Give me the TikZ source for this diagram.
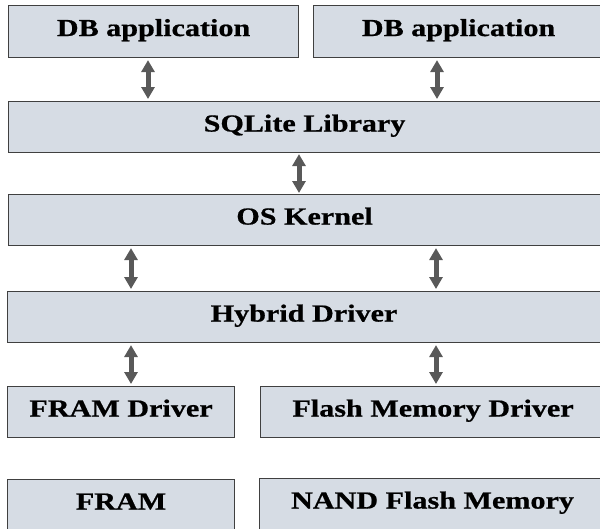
\documentclass[tikz,border=0pt]{standalone}
\usepackage{fontspec}
\newfontfamily\lblfont[FakeStretch=1.23,FakeBold=0.7]{Liberation Serif Bold}
\usetikzlibrary{arrows.meta}
\definecolor{boxfill}{HTML}{D6DCE4}
\definecolor{boxline}{HTML}{404040}
\definecolor{arrowcol}{HTML}{595959}
\tikzset{
  layer/.style={draw=boxline, fill=boxfill, line width=1.1pt, anchor=north west,
    inner sep=0pt, text height=16.5pt, text depth=7.5pt,
    font=\lblfont\fontsize{24.5}{28}\selectfont},
  dbl/.style={draw=arrowcol, line width=5pt,
    {Triangle[length=12pt,width=13pt]}-{Triangle[length=12pt,width=13pt]}}
}
\begin{document}
\begin{tikzpicture}[x=1pt,y=-1pt]
\useasboundingbox (0,0) rectangle (600,528);
\clip (0,0) rectangle (600,528);
\fill[white] (0,0) rectangle (600,528);
\node[layer, minimum width=290pt, minimum height=52pt] (app1) at (8,5) {DB application};
\node[layer, minimum width=290pt, minimum height=52pt] (app2) at (313,5) {DB application};
\node[layer, minimum width=592pt, minimum height=51pt] (sql) at (8,101) {SQLite Library};
\node[layer, minimum width=592pt, minimum height=51pt] (os) at (8,194) {OS Kernel};
\node[layer, minimum width=593pt, minimum height=51pt] (hyb) at (7,291) {Hybrid Driver};
\node[layer, minimum width=227pt, minimum height=51pt] (fd) at (7,386) {FRAM Driver};
\node[layer, minimum width=345pt, minimum height=51pt] (fmd) at (260,386) {Flash Memory Driver};
\node[layer, minimum width=227pt, minimum height=51pt] (fram) at (7,479) {FRAM};
\node[layer, minimum width=346pt, minimum height=51pt] (nand) at (259,478) {NAND Flash Memory};
\coordinate (xa) at (148,0);
\coordinate (xb) at (437,0);
\coordinate (xc) at (299,0);
\coordinate (xd) at (131,0);
\coordinate (xe) at (436,0);
\draw[dbl] ([yshift=-2pt]app1.south -| xa) -- ([yshift=2pt]sql.north -| xa);
\draw[dbl] ([yshift=-2pt]app2.south -| xb) -- ([yshift=2pt]sql.north -| xb);
\draw[dbl] ([yshift=-1pt]sql.south -| xc) -- ([yshift=1pt]os.north -| xc);
\draw[dbl] ([yshift=-2pt]os.south -| xd) -- ([yshift=2pt]hyb.north -| xd);
\draw[dbl] ([yshift=-2pt]os.south -| xe) -- ([yshift=2pt]hyb.north -| xe);
\draw[dbl] ([yshift=-2pt]hyb.south -| xd) -- ([yshift=2pt]fd.north -| xd);
\draw[dbl] ([yshift=-2pt]hyb.south -| xe) -- ([yshift=2pt]fmd.north -| xe);
\end{tikzpicture}
\end{document}
